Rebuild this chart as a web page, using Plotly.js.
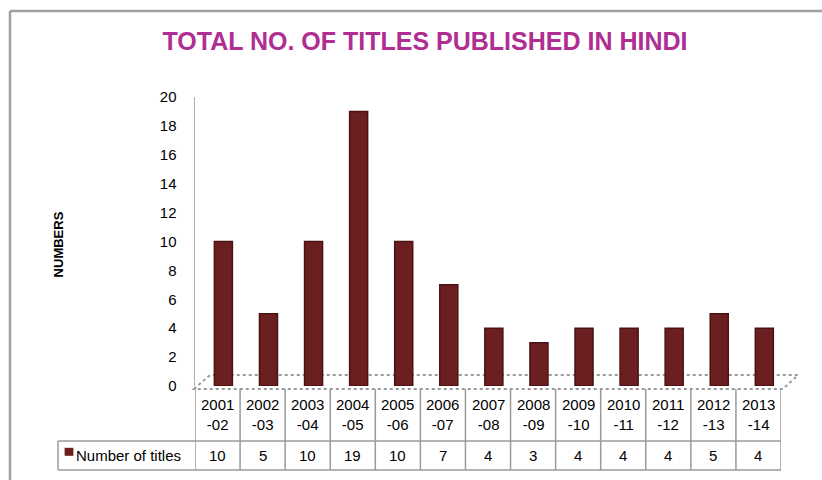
<!DOCTYPE html>
<html>
<head>
<meta charset="utf-8">
<script src="https://cdn.plot.ly/plotly-3.0.1.min.js"></script>
<style>html,body{margin:0;padding:0;background:#fff;}#chart{width:822px;height:480px;}</style>
</head>
<body>
<div id="chart"></div>
<script>
// ---- data ----
const categories = ["2001-02","2002-03","2003-04","2004-05","2005-06","2006-07","2007-08","2008-09","2009-10","2010-11","2011-12","2012-13","2013-14"];
const titlesCount = [10, 5, 10, 19, 10, 7, 4, 3, 4, 4, 4, 5, 4];
const seriesName = "Number of titles";
const yTicks = [0, 2, 4, 6, 8, 10, 12, 14, 16, 18, 20];
const chartTitle = "TOTAL NO. OF TITLES PUBLISHED IN HINDI";
const yTitle = "NUMBERS";

// ---- styles ----
const barColor = "#6B1F20";
const gridGray = "#9a9a9a";
const font = "Liberation Sans, Arial, sans-serif";

const idx = categories.map((c, i) => i);

// paper-y rows of the data table (plot domain: y=0 at bottom)
const rowTop = -0.0104, rowMid = -0.1903, rowBot = -0.2907;
const legendLeft = -0.2338;

const shapes = [];
const annotations = [];

// floor (3D base) - dotted parallelogram
shapes.push({type:"path", xref:"paper", yref:"paper",
  path:"M -0.0017,-0.0104 L 0.0256,0.038 L 1.029,0.038 L 1.0034,-0.0104 Z",
  fillcolor:"#ffffff", line:{color:gridGray, width:2, dash:"dot"}, layer:"below"});

// table: horizontal lines
shapes.push({type:"line", xref:"paper", yref:"paper", x0:legendLeft, x1:1, y0:rowMid, y1:rowMid, line:{color:gridGray, width:1.5}});
shapes.push({type:"line", xref:"paper", yref:"paper", x0:legendLeft, x1:1, y0:rowBot, y1:rowBot, line:{color:gridGray, width:1.5}});
shapes.push({type:"line", xref:"paper", yref:"paper", x0:legendLeft, x1:legendLeft, y0:rowMid, y1:rowBot, line:{color:gridGray, width:1.5}});
// table: vertical dividers at category boundaries
for (let i = 0; i <= categories.length; i++) {
  shapes.push({type:"line", xref:"x", yref:"paper", x0:i-0.5, x1:i-0.5, y0:rowTop, y1:rowBot, line:{color:gridGray, width:1.5}});
}
// legend key square
shapes.push({type:"rect", xref:"paper", yref:"paper", x0:-0.2225, x1:-0.2075, y0:-0.2138, y1:-0.2415, fillcolor:barColor, line:{width:0}});

// table text
categories.forEach((c, i) => {
  const parts = c.split("-");
  annotations.push({xref:"x", yref:"paper", x:i, y:-0.1003, text:parts[0] + "<br>-" + parts[1],
    showarrow:false, font:{family:font, size:15, color:"#000"}, xanchor:"center", yanchor:"middle"});
  annotations.push({xref:"x", yref:"paper", x:i, y:-0.2405, text:String(titlesCount[i]),
    showarrow:false, font:{family:font, size:15, color:"#000"}, xanchor:"center", yanchor:"middle"});
});
annotations.push({xref:"paper", yref:"paper", x:-0.207, y:-0.2405, text:seriesName, showarrow:false,
  font:{family:font, size:15, color:"#000"}, xanchor:"left", yanchor:"middle"});

// y axis title
annotations.push({xref:"paper", yref:"paper", x:-0.2338, y:0.49, text:"<b>" + yTitle + "</b>", textangle:-90,
  showarrow:false, font:{family:font, size:13, color:"#000"}, xanchor:"center", yanchor:"middle"});

// chart frame (top and left)
shapes.push({type:"line", xref:"paper", yref:"paper", x0:-0.3157, x1:1.1, y0:1.2976, y1:1.2976, line:{color:"#a0a0a0", width:2.5}});
shapes.push({type:"line", xref:"paper", yref:"paper", x0:-0.3157, x1:-0.3157, y0:1.2976, y1:-0.4, line:{color:"#a0a0a0", width:2.5}});

const trace = {
  type:"bar", x:idx, y:titlesCount, name:seriesName,
  width:0.4, offset:-0.07,
  marker:{color:barColor, line:{color:"#4a1212", width:1.5}},
  hoverinfo:"x+y"
};

const layout = {
  width:822, height:480,
  margin:{l:195, r:41, t:97, b:94},
  paper_bgcolor:"#ffffff", plot_bgcolor:"rgba(0,0,0,0)",
  showlegend:false,
  title:{text:"<b>" + chartTitle + "</b>", font:{family:font, size:25, color:"#B02E92"},
    x:0.517, xanchor:"center", xref:"container", y:0.915, yanchor:"middle", yref:"container"},
  xaxis:{range:[-0.5, categories.length - 0.5], showticklabels:false, showgrid:false, zeroline:false,
    showline:false, ticks:"", fixedrange:true},
  yaxis:{range:[0, 20], tickvals:yTicks, ticktext:yTicks.map(String), showgrid:false, zeroline:false,
    showline:true, linecolor:"#b0b0b0", linewidth:1.5, ticks:"", ticklabelstandoff:14,
    tickfont:{family:font, size:15, color:"#000"}, fixedrange:true},
  shapes:shapes, annotations:annotations,
  bargap:0.5
};

Plotly.newPlot("chart", [trace], layout, {displayModeBar:false, staticPlot:true});
</script>
</body>
</html>
